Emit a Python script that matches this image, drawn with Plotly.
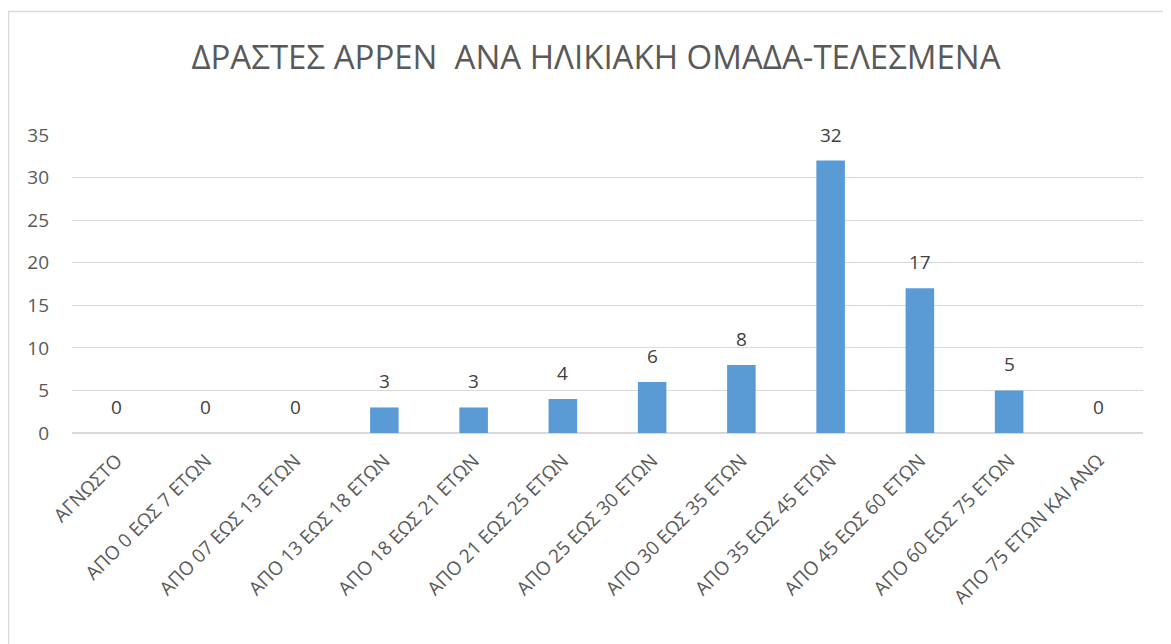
import plotly.graph_objects as go

categories = ["ΑΓΝΩΣΤΟ", "ΑΠΟ 0 ΕΩΣ 7 ΕΤΩΝ", "ΑΠΟ 07 ΕΩΣ 13 ΕΤΩΝ", "ΑΠΟ 13 ΕΩΣ 18 ΕΤΩΝ",
              "ΑΠΟ 18 ΕΩΣ 21 ΕΤΩΝ", "ΑΠΟ 21 ΕΩΣ 25 ΕΤΩΝ", "ΑΠΟ 25 ΕΩΣ 30 ΕΤΩΝ",
              "ΑΠΟ 30 ΕΩΣ 35 ΕΤΩΝ", "ΑΠΟ 35 ΕΩΣ 45 ΕΤΩΝ", "ΑΠΟ 45 ΕΩΣ 60 ΕΤΩΝ",
              "ΑΠΟ 60 ΕΩΣ 75 ΕΤΩΝ", "ΑΠΟ 75 ΕΤΩΝ ΚΑΙ ΑΝΩ"]
values = [0, 0, 0, 3, 3, 4, 6, 8, 32, 17, 5, 0]
y_ticks = [0, 5, 10, 15, 20, 25, 30, 35]
title_text = "ΔΡΑΣΤΕΣ ΑΡΡΕΝ\u00a0\u00a0ΑΝΑ ΗΛΙΚΙΑΚΗ ΟΜΑΔΑ-ΤΕΛΕΣΜΕΝΑ"

FONT = "Open Sans"

# page body has an 8px margin; figure coordinates = page coordinates - 8
W, H = 1163, 636
l, r, t, b = 64, 28, 127, 211
pw, ph = W - l - r, H - t - b


def px_x(x):
    return (x - l) / pw


def px_y(y):
    return (H - b - y) / ph


fig = go.Figure()
fig.add_trace(go.Bar(x=categories, y=values, marker_color="#5b9bd5",
                     marker_line_width=0, hoverinfo="x+y"))

for c, v in zip(categories, values):
    fig.add_annotation(x=c, y=v, text=str(v), showarrow=False, yanchor="middle",
                       yshift=26, font=dict(family=FONT, size=19, color="#404040"))

fig.add_shape(type="rect", xref="paper", yref="paper",
              x0=px_x(0.5), x1=px_x(1180), y0=px_y(660), y1=px_y(3.5),
              line=dict(color="#d9d9d9", width=1.5), fillcolor="rgba(0,0,0,0)", layer="below")

fig.update_layout(
    width=W, height=H,
    margin=dict(l=l, r=r, t=t, b=b),
    paper_bgcolor="white", plot_bgcolor="white",
    bargap=0.68,
    showlegend=False,
    title=dict(text=title_text, x=588 / W, xanchor="center", y=1 - 49.5 / H, yanchor="middle",
               yref="container", font=dict(family=FONT, size=33, color="#595959")),
    font=dict(family=FONT, color="#595959"),
)
fig.update_xaxes(tickangle=-45, tickfont=dict(family=FONT, size=19, color="#595959"),
                 showgrid=False, showline=True, linecolor="#d9d9d9", linewidth=1,
                 ticks="", ticklabelstandoff=8, automargin=False)
fig.update_yaxes(range=[0, 35], tickvals=y_ticks, showgrid=True, gridcolor="#d9d9d9",
                 gridwidth=1, zeroline=True, zerolinecolor="#d9d9d9", showline=False,
                 tickfont=dict(family=FONT, size=19, color="#595959"), ticks="",
                 ticklabelstandoff=22, automargin=False)

fig.write_html("out.html")
